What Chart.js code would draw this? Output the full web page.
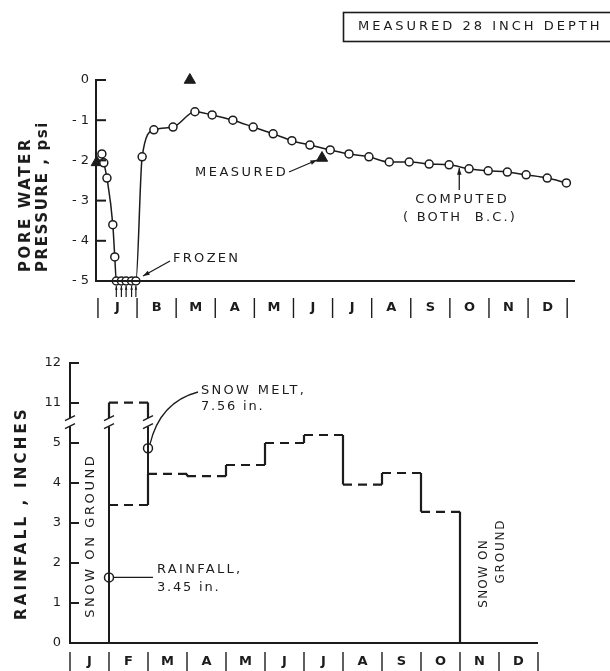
<!DOCTYPE html>
<html><head><meta charset="utf-8">
<script src="https://cdn.jsdelivr.net/npm/chart.js@4.4.1/dist/chart.umd.min.js"></script>
<style>
html,body{margin:0;padding:0;background:#fff;width:610px;height:671px;overflow:hidden}
#c1{position:absolute;left:0;top:0}
#c2{position:absolute;left:0;top:330px}
</style></head><body>
<canvas id="c1" width="610" height="330"></canvas>
<canvas id="c2" width="610" height="341"></canvas>
<script>
const INK = '#1c1c1c';
const FONT = '"DejaVu Sans", sans-serif';

// ---------- upper panel: pore water pressure ----------
const topMonthLabels = ['J','B','M','A','M','J','J','A','S','O','N','D'];
const computedMonth = [0.10,0.15,0.23,0.38,0.43,0.47,0.60,0.72,0.86,0.97,1.13,1.43,1.92,2.48,2.92,3.45,3.97,4.48,4.96,5.42,5.94,6.42,6.93,7.45,7.96,8.47,8.98,9.49,9.98,10.47,10.95,11.49,11.98];
const computedPsi   = [-1.84,-2.06,-2.44,-3.6,-4.4,-5,-5,-5,-5,-5,-1.91,-1.24,-1.17,-0.79,-0.87,-1.0,-1.17,-1.34,-1.51,-1.62,-1.74,-1.84,-1.91,-2.04,-2.04,-2.09,-2.11,-2.21,-2.26,-2.29,-2.36,-2.44,-2.56];
const measuredMonth = [-0.03, 2.35, 5.73];
const measuredPsi   = [-2.05, 0.0, -1.94];
const frozenMonth   = [0.47,0.60,0.72,0.86,0.97];
const psiTicks      = [0,-1,-2,-3,-4,-5];

// ---------- lower panel: rainfall ----------
const bottomMonthLabels = ['J','F','M','A','M','J','J','A','S','O','N','D'];
const rainMonthStart = [1,2,3,4,5,6,7,8,9];
const rainInches     = [3.45,4.23,4.17,4.45,5.0,5.2,3.96,4.25,3.28];
const snowMeltInches = 7.56;
const rainTicks      = [0,1,2,3,4,5,11,12];
const rainfallMarkAt = 1.64;
const snowMeltMarkAt = 4.87;

// broken axis: values above the break are shifted down by 5
const disp = v => v > 8 ? v - 5 : v;
const BREAK_LO = 5.42, BREAK_HI = 5.62;

function line(ctx,x1,y1,x2,y2,w){ctx.save();ctx.strokeStyle=INK;ctx.lineWidth=w||1.5;ctx.beginPath();ctx.moveTo(x1,y1);ctx.lineTo(x2,y2);ctx.stroke();ctx.restore();}
function arrow(ctx,x1,y1,x2,y2,head,w){
  head=head||7;ctx.save();ctx.strokeStyle=INK;ctx.fillStyle=INK;ctx.lineWidth=w||1.3;
  ctx.beginPath();ctx.moveTo(x1,y1);ctx.lineTo(x2,y2);ctx.stroke();
  const a=Math.atan2(y2-y1,x2-x1);
  ctx.beginPath();ctx.moveTo(x2,y2);
  ctx.lineTo(x2-head*Math.cos(a-0.33),y2-head*Math.sin(a-0.33));
  ctx.lineTo(x2-head*Math.cos(a+0.33),y2-head*Math.sin(a+0.33));
  ctx.closePath();ctx.fill();ctx.restore();
}
function text(ctx,s,x,y,o){
  o=o||{};ctx.save();
  ctx.font=(o.weight||'normal')+' '+(o.size||13)+'px '+FONT;
  ctx.fillStyle=INK;ctx.textBaseline='middle';ctx.textAlign=o.align||'left';
  ctx.letterSpacing=(o.spacing||0)+'px';
  ctx.translate(x,y); if(o.rot) ctx.rotate(o.rot);
  const dx=(o.align==='center'&&o.spacing)?o.spacing/2:0;
  ctx.fillText(s,dx,0);ctx.restore();
}

// ---------------- TOP CHART ----------------
const topPlugin = {
  id:'topDeco',
  afterDraw(chart){
    const {ctx, chartArea:a, scales:{x,y}} = chart;
    line(ctx,a.left-1,a.bottom,a.right,a.bottom,2);
    psiTicks.forEach(v=>{const py=y.getPixelForValue(v);line(ctx,a.left,py,a.left+10,py,2);});
    for(let i=0;i<=12;i++){const px=x.getPixelForValue(i);line(ctx,px,298,px,318,1.4);}
    topMonthLabels.forEach((m,i)=>text(ctx,m,x.getPixelForValue(i+0.5),308,{size:13,weight:'bold',align:'center'}));
    text(ctx,'PORE WATER',26,272,{rot:-Math.PI/2,weight:'bold',size:15,spacing:2.6});
    text(ctx,'PRESSURE , psi',43,272,{rot:-Math.PI/2,weight:'bold',size:15,spacing:1.6});
    ctx.save();ctx.strokeStyle=INK;ctx.lineWidth=1.6;ctx.strokeRect(343.5,12.5,280,29);ctx.restore();
    text(ctx,'MEASURED 28 INCH DEPTH',358,27,{size:13,spacing:3});
    // MEASURED annotation
    text(ctx,'MEASURED',195,173,{size:13,spacing:2.5});
    const tx=x.getPixelForValue(measuredMonth[2]), ty=y.getPixelForValue(measuredPsi[2]);
    arrow(ctx,289,172,tx-5,ty+2,7,1.3);
    // COMPUTED annotation
    text(ctx,'COMPUTED',461,200,{size:13,spacing:2.5,align:'center'});
    text(ctx,'( BOTH  B.C.)',459,218,{size:13,spacing:2.2,align:'center'});
    const cx=x.getPixelForValue(9.24);
    arrow(ctx,cx,190,cx,y.getPixelForValue(-2.14)+2,7,1.3);
    // FROZEN
    text(ctx,'FROZEN',173,259,{size:13,spacing:2.3});
    arrow(ctx,170,261,143,276,7,1.3);
    frozenMonth.forEach(m=>{const px=x.getPixelForValue(m);arrow(ctx,px,297,px,286,4,1.2);});
  }
};

new Chart(document.getElementById('c1'),{
  type:'line',
  data:{datasets:[
    {label:'computed',data:computedMonth.map((m,i)=>({x:m,y:computedPsi[i]})),
     borderColor:INK,borderWidth:1.5,pointRadius:4,pointBorderWidth:1.5,pointBackgroundColor:'#fff',
     pointBorderColor:INK,cubicInterpolationMode:'monotone',clip:false},
    {label:'measured',data:measuredMonth.map((m,i)=>({x:m,y:measuredPsi[i]})),showLine:false,
     pointStyle:'triangle',pointRadius:6.5,pointBackgroundColor:INK,pointBorderColor:INK,clip:false}
  ]},
  options:{
    responsive:false,animation:false,devicePixelRatio:1,
    layout:{padding:{left:56,right:35,top:80,bottom:49}},
    plugins:{legend:{display:false},tooltip:{enabled:false}},
    scales:{
      x:{type:'linear',display:false,min:-0.05,max:12.2},
      y:{type:'linear',min:-5,max:0,
         afterBuildTicks:s=>{s.ticks=psiTicks.map(v=>({value:v}));},
         afterFit:s=>{s.width=40;},
         ticks:{padding:7,color:INK,font:{family:FONT,size:13},callback:(v,i)=>psiTicks[i]===0?'0':'- '+(-psiTicks[i])},
         grid:{display:false,drawTicks:false},
         border:{display:true,width:2,color:INK}}
    }
  },
  plugins:[topPlugin]
});

// ---------------- BOTTOM CHART ----------------
const stepPts=[];
rainMonthStart.forEach((m,i)=>{stepPts.push({x:m,y:rainInches[i]});stepPts.push({x:m+1,y:rainInches[i]});});
stepPts.push({x:rainMonthStart[rainMonthStart.length-1]+1,y:0});
const snowTop = disp(rainInches[0]+snowMeltInches);
const dashRule = {borderDash:c=>c.p0.parsed.x===c.p1.parsed.x?[]:[9,6]};

const bottomPlugin = {
  id:'botDeco',
  afterDraw(chart){
    const {ctx, chartArea:a, scales:{x,y}} = chart;
    line(ctx,a.left-1,a.bottom,a.right,a.bottom,2);
    rainTicks.forEach(v=>{const py=y.getPixelForValue(disp(v));line(ctx,a.left,py,a.left+9,py,2);});
    // breaks
    const yLo=y.getPixelForValue(BREAK_LO), yHi=y.getPixelForValue(BREAK_HI);
    [a.left, x.getPixelForValue(1), x.getPixelForValue(2)].forEach(px=>{
      ctx.save();ctx.fillStyle='#fff';ctx.fillRect(px-3,yHi,6,yLo-yHi);ctx.restore();
      line(ctx,px-5,yLo+2.5,px+5,yLo-2.5,1.5);
      line(ctx,px-5,yHi+2.5,px+5,yHi-2.5,1.5);
    });
    for(let i=0;i<=12;i++){const px=x.getPixelForValue(i);line(ctx,px,322,px,341,1.4);}
    bottomMonthLabels.forEach((m,i)=>text(ctx,m,x.getPixelForValue(i+0.5),332,{size:13,weight:'bold',align:'center'}));
    text(ctx,'RAINFALL , INCHES',22,290,{rot:-Math.PI/2,weight:'bold',size:15,spacing:3.2});
    text(ctx,'SNOW ON GROUND',x.getPixelForValue(0.5)+1,207,{rot:-Math.PI/2,size:13,spacing:2.6,align:'center'});
    text(ctx,'SNOW ON',x.getPixelForValue(10.6),244,{rot:-Math.PI/2,size:12,spacing:1.2,align:'center'});
    text(ctx,'GROUND',x.getPixelForValue(11.04),222,{rot:-Math.PI/2,size:12,spacing:1.8,align:'center'});
    // rainfall leader
    const rx=x.getPixelForValue(1), ry=y.getPixelForValue(rainfallMarkAt);
    line(ctx,rx+4,ry,153,ry,1.3);
    text(ctx,'RAINFALL,',157,240,{size:13,spacing:2.3});
    text(ctx,'3.45 in.',157,258,{size:13,spacing:1.8});
    // snow melt leader
    const sx=x.getPixelForValue(2), sy=y.getPixelForValue(snowMeltMarkAt);
    ctx.save();ctx.strokeStyle=INK;ctx.lineWidth=1.3;ctx.beginPath();
    ctx.moveTo(sx+2,sy-4);ctx.quadraticCurveTo(sx+12,72,198,62);ctx.stroke();ctx.restore();
    text(ctx,'SNOW MELT,',201,61,{size:13,spacing:2.3});
    text(ctx,'7.56 in.',201,77,{size:13,spacing:1.8});
  }
};

new Chart(document.getElementById('c2'),{
  type:'line',
  data:{datasets:[
    {label:'rainfall',data:stepPts,borderColor:INK,borderWidth:2.2,pointRadius:0,tension:0,segment:dashRule},
    {label:'snowmelt',data:[{x:1,y:BREAK_HI},{x:1,y:snowTop},{x:2,y:snowTop},{x:2,y:BREAK_HI}],
     borderColor:INK,borderWidth:2.2,pointRadius:0,tension:0,segment:dashRule},
    {label:'febLine',data:[{x:1,y:0},{x:1,y:BREAK_LO}],borderColor:INK,borderWidth:2,pointRadius:0},
    {label:'marLine',data:[{x:2,y:rainInches[0]},{x:2,y:BREAK_LO}],borderColor:INK,borderWidth:2,pointRadius:0},
    {label:'marks',data:[{x:1,y:rainfallMarkAt},{x:2,y:snowMeltMarkAt}],showLine:false,
     pointRadius:4.5,pointBorderWidth:1.5,pointBackgroundColor:'#fff',pointBorderColor:INK}
  ]},
  options:{
    responsive:false,animation:false,devicePixelRatio:1,
    layout:{padding:{left:30,right:72,top:33,bottom:28}},
    plugins:{legend:{display:false},tooltip:{enabled:false}},
    scales:{
      x:{type:'linear',display:false,min:0,max:12},
      y:{type:'linear',min:0,max:7,
         afterBuildTicks:s=>{s.ticks=rainTicks.map(v=>({value:disp(v)}));},
         afterFit:s=>{s.width=40;},
         ticks:{padding:9,color:INK,font:{family:FONT,size:13},callback:(v,i)=>String(rainTicks[i])},
         grid:{display:false,drawTicks:false},
         border:{display:true,width:2,color:INK}}
    }
  },
  plugins:[bottomPlugin]
});
</script>
</body></html>
